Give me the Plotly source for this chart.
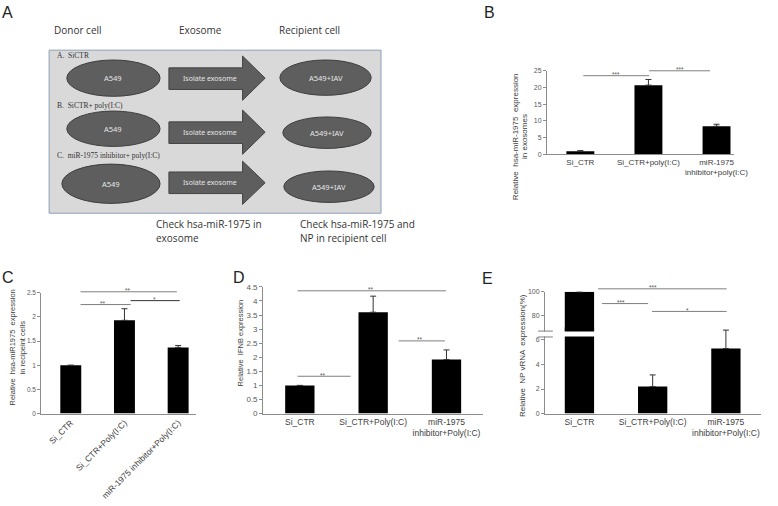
import plotly.graph_objects as go

W, H = 778, 506

def fx(p):
    return p / W

def fy(p):
    return 1 - p / H

# ---------------- data ----------------
cats_B = ["Si_CTR", "Si_CTR+poly(I:C)", "miR-1975<br>inhibitor+poly(I:C)"]
vals_B = [0.9, 20.7, 8.4]
err_B = [0.2, 1.7, 0.6]

cats_C = ["Si_CTR", "Si_CTR+Poly(I:C)", "miR-1975 inhibitor+Poly(I:C)"]
vals_C = [1.0, 1.93, 1.37]
err_C = [0.0, 0.24, 0.04]

cats_D = ["Si_CTR", "Si_CTR+Poly(I:C)", "miR-1975<br>inhibitor+Poly(I:C)"]
vals_D = [1.0, 3.6, 1.92]
err_D = [0.0, 0.57, 0.34]

cats_E = ["Si_CTR", "Si_CTR+Poly(I:C)", "miR-1975<br>inhibitor+Poly(I:C)"]
vals_E = [100.0, 2.2, 5.3]
err_E = [0.0, 0.95, 1.5]

xs = [0, 1, 2]

SANS = "Liberation Sans"
AXC = "#8c8c8c"
TXT = "#404040"

fig = go.Figure()

def add_bars(vals, err, xa, ya, width):
    fig.add_trace(go.Bar(
        x=xs, y=vals, width=width, xaxis=xa, yaxis=ya,
        marker=dict(color="black", line=dict(width=0)),
        error_y=dict(type="data", array=err, arrayminus=[0] * len(err),
                     symmetric=False, color="#333333", thickness=1, width=3),
        showlegend=False, hoverinfo="skip"))

add_bars(vals_B, err_B, "x", "y", 0.41)
add_bars(vals_C, err_C, "x2", "y2", 0.39)
add_bars(vals_D, err_D, "x3", "y3", 0.40)
add_bars(vals_E, err_E, "x4", "y4", 0.40)
add_bars(vals_E, err_E, "x4", "y5", 0.40)

def yax(dom, rng, anchor, dtick=None, tickvals=None, size=7):
    d = dict(domain=[fy(dom[0]), fy(dom[1])], range=rng, anchor=anchor,
             showline=True, linecolor=AXC, linewidth=1, ticks="outside",
             ticklen=3, tickcolor=AXC, showgrid=False, zeroline=False,
             tickfont=dict(family=SANS, size=size, color="#595959"))
    if dtick is not None:
        d["dtick"] = dtick
        d["tick0"] = 0
    if tickvals is not None:
        d["tickvals"] = tickvals
    return d

def xax(dom, rng, anchor, cats, size=8.5, angle=0):
    return dict(domain=[fx(dom[0]), fx(dom[1])], range=rng, anchor=anchor,
                showline=True, linecolor=AXC, linewidth=1, ticks="",
                showgrid=False, zeroline=False, tickvals=xs, ticktext=cats,
                tickangle=angle, tickfont=dict(family=SANS, size=size, color=TXT))

layout = dict(
    width=W, height=H, margin=dict(l=0, r=0, t=0, b=0, pad=0),
    paper_bgcolor="white", plot_bgcolor="rgba(0,0,0,0)",
    bargap=0.5,
    xaxis=xax((557, 747), [-0.49, 2.25], "y", cats_B, size=8),
    yaxis=yax((153, 68), [0, 25], "x", dtick=5, size=7),
    xaxis2=xax((42, 200), [-0.55, 2.34], "y2", cats_C, size=8.5, angle=-45),
    yaxis2=yax((417, 294), [0, 2.5], "x2", dtick=0.5, size=6.5),
    xaxis3=xax((268, 492), [-0.5, 2.5], "y3", cats_D, size=8.5),
    yaxis3=yax((417, 288), [0, 4.5], "x3", dtick=0.5, size=8),
    xaxis4=xax((555, 775), [-0.47, 2.48], "y4", cats_E, size=8.5),
    yaxis4=yax((417, 329), [0, 7.04], "x4", dtick=2, size=7),
    yaxis5=yax((333, 293), [66.67, 100], "x4", tickvals=[80, 100], size=7),
)
fig.update_layout(**layout)

shapes = []
annots = []

def line(x0, y0, x1, y1, color="#7f7f7f", width=1):
    shapes.append(dict(type="line", xref="paper", yref="paper",
                       x0=fx(x0), y0=fy(y0), x1=fx(x1), y1=fy(y1),
                       line=dict(color=color, width=width)))

def text(x, y, s, size=8, color=TXT, family=SANS, angle=0, xanchor="center", yanchor="middle"):
    annots.append(dict(xref="paper", yref="paper", x=fx(x), y=fy(y), text=s,
                       showarrow=False, textangle=angle, xanchor=xanchor, yanchor=yanchor,
                       font=dict(family=family, size=size, color=color)))

# ---------- significance brackets (x0, x1, y, label, label_x) ----------
brackets = [
    (594, 661, 73, "***", 627, "#7f7f7f"),
    (661, 723, 68, "***", 692, "#7f7f7f"),
    (82, 180, 293, "**", 130, "#7f7f7f"),
    (82, 133, 306, "**", 105, "#7f7f7f"),
    (133, 183, 302, "*", 157, "#333333"),
    (303, 454, 292, "**", 378, "#7f7f7f"),
    (303, 357, 379, "**", 329, "#7f7f7f"),
    (406, 453, 343, "**", 428, "#7f7f7f"),
    (609, 740, 290, "***", 665, "#7f7f7f"),
    (613, 660, 305, "***", 632, "#7f7f7f"),
    (664, 740, 313, "*", 700, "#7f7f7f"),
]
for x0, x1, y, lab, lx, c in brackets:
    line(x0, y, x1, y, color=c)
    text(lx, y - 1, lab, size=6.5, color="#595959")

# ---------- axis break for panel E ----------
shapes.append(dict(type="rect", xref="paper", yref="paper",
                   x0=fx(550), x1=fx(612), y0=fy(333.5), y1=fy(338.5),
                   fillcolor="white", line=dict(width=0)))
line(548, 333, 563, 333, color="#7f7f7f")
line(548, 339, 563, 339, color="#7f7f7f")

# ---------- y axis titles ----------
text(525, 135, "Relative  hsa-miR-1975  expression", size=8, angle=-90)
text(534, 135, "in exosomes", size=8, angle=-90)
text(13, 350, "Relative  hsa-miR1975  expression", size=7.5, angle=-90)
text(23, 350, "in recipeint cells", size=7.5, angle=-90)
text(245, 345, "Relative  IFNB expression", size=7.5, angle=-90)
text(532, 358, "Relative  NP vRNA  expression(%)", size=8, angle=-90)

# ---------- panel letters ----------
for lx, ly, s in [(8, 9, "A"), (498, 9, "B"), (8, 278, "C"), (243, 278, "D"), (496, 279, "E")]:
    text(lx, ly, s, size=16, color="#222222", family="Liberation Sans")

# ---------- panel A schematic ----------
head_labels = [(79, "Donor cell"), (204, "Exosome"), (315, "Recipient cell")]
for hx, s in head_labels:
    text(hx, 26, s, size=10, color="#333333", family="Open Sans")

shapes.append(dict(type="rect", xref="paper", yref="paper",
                   x0=fx(50), x1=fx(388), y0=fy(47), y1=fy(213),
                   fillcolor="#d9d9d9", line=dict(color="#8ea0b8", width=1), layer="below"))

row_labels = ["A.  SiCTR", "B.  SiCTR+ poly(I:C)", "C.  miR-1975 inhibitor+ poly(I:C)"]
row_label_y = [52, 103, 154]
left_ell = [(68, 163, 57, 94), (68, 163, 109, 145), (63, 163, 163, 203)]
arrow_y = [(65, 87, 53, 98), (120, 142, 108, 153), (171, 193, 160, 204)]
right_ell = [(285, 378, 57, 93), (288, 378, 115, 147), (289, 381, 170, 202)]

ELL = "#5e5e5e"
for i in range(3):
    text(56, row_label_y[i], row_labels[i], size=7.5, color="#333333",
         family="Liberation Serif", xanchor="left")
    x0, x1, y0, y1 = left_ell[i]
    shapes.append(dict(type="circle", xref="paper", yref="paper",
                       x0=fx(x0), x1=fx(x1), y0=fy(y0), y1=fy(y1),
                       fillcolor=ELL, line=dict(color="#3d3d3d", width=1)))
    text((x0 + x1) / 2, (y0 + y1) / 2, "A549", size=7.5, color="#e6e6e6", family="Noto Sans")
    b0, b1, h0, h1 = arrow_y[i]
    ax0, axm, axt = 172, 247, 270
    yc = (h0 + h1) / 2
    pts = [(ax0, b0), (axm, b0), (axm, h0), (axt, yc), (axm, h1), (axm, b1), (ax0, b1)]
    path = "M " + " L ".join(f"{fx(px):.5f},{fy(py):.5f}" for px, py in pts) + " Z"
    shapes.append(dict(type="path", xref="paper", yref="paper", path=path,
                       fillcolor=ELL, line=dict(color="#444444", width=1)))
    text(214, yc, "Isolate exosome", size=7, color="#e6e6e6", family="Noto Sans")
    x0, x1, y0, y1 = right_ell[i]
    shapes.append(dict(type="circle", xref="paper", yref="paper",
                       x0=fx(x0), x1=fx(x1), y0=fy(y0), y1=fy(y1),
                       fillcolor=ELL, line=dict(color="#3d3d3d", width=1)))
    text((x0 + x1) / 2, (y0 + y1) / 2, "A549+IAV", size=7.5, color="#e6e6e6", family="Noto Sans")

text(157, 224, "Check hsa-miR-1975 in", size=10, color="#333333", family="Open Sans", xanchor="left")
text(157, 238, "exosome", size=10, color="#333333", family="Open Sans", xanchor="left")
text(303, 224, "Check hsa-miR-1975 and", size=10, color="#333333", family="Open Sans", xanchor="left")
text(303, 238, "NP in recipient cell", size=10, color="#333333", family="Open Sans", xanchor="left")

fig.update_layout(shapes=shapes, annotations=annots)
fig.write_html("out.html", config={"displayModeBar": False},
               post_script="document.body.style.margin='0';document.body.style.overflow='hidden';")
